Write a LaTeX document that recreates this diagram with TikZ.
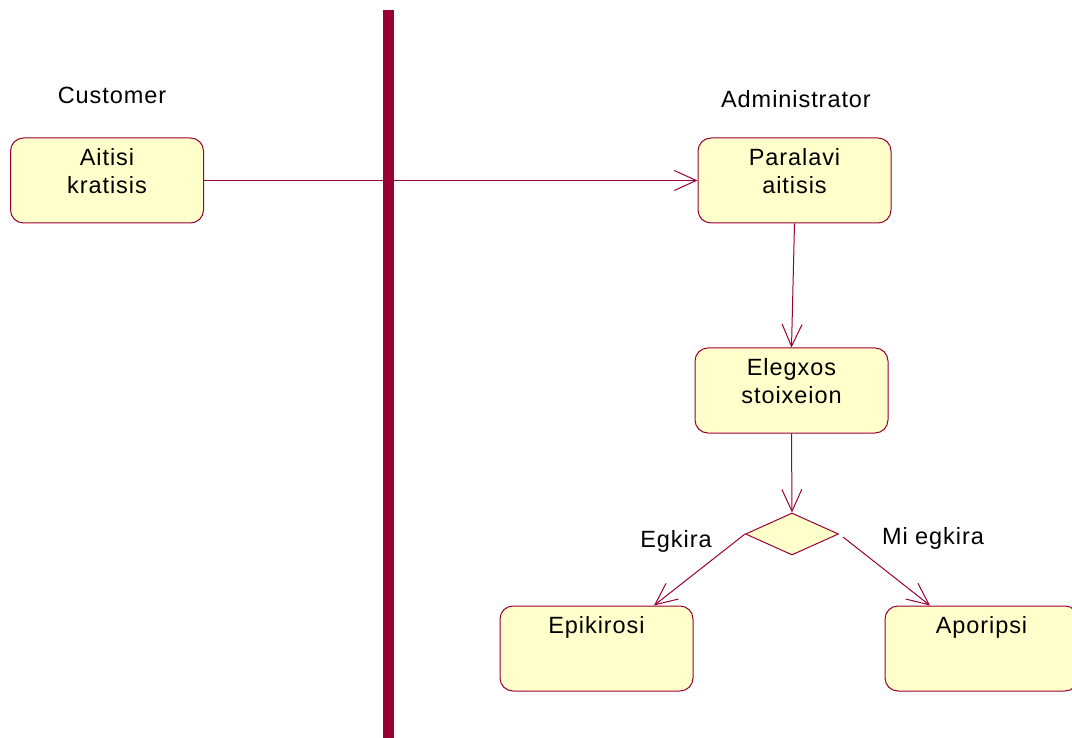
\documentclass[tikz,border=0pt]{standalone}
\usepackage{fontspec}
\setmainfont[LetterSpace=4]{Liberation Sans}
\usetikzlibrary{shapes.geometric,arrows.meta}
\definecolor{umlline}{HTML}{990033}
\definecolor{umlfill}{HTML}{FFFFCC}
\begin{document}
\begin{tikzpicture}[x=1pt,y=-1pt,
  every node/.style={font=\fontsize{23.5}{28}\selectfont},
  act/.style={draw=umlline, fill=umlfill, line width=1pt, rounded corners=13pt,
    minimum width=193pt, minimum height=85pt, inner sep=0pt},
  acttext/.style={anchor=north, align=center, inner sep=0pt, yshift=-11pt},
  decision/.style={draw=umlline, fill=umlfill, line width=1pt, shape=diamond,
    minimum width=93pt, minimum height=42pt, inner sep=0pt},
  flow/.style={draw=umlline, line width=1pt, -{Straight Barb[length=22pt,width=20pt,line width=1pt]}},
  lane/.style={inner sep=0pt}]
\useasboundingbox (0,0) rectangle (1072,738);
% swimlane divider
\fill[umlline] (383,10) rectangle (394,738);
% lane titles
\node[lane] (cust) at (112,95) {Customer};
\node[lane] (admin) at (796,99) {Administrator};
% activities
\node[act, label={[acttext]north:Aitisi\\kratisis}] (req) at (107,180.5) {};
\node[act, label={[acttext]north:Paralavi\\aitisis}] (recv) at (794.5,180.5) {};
\node[act, label={[acttext]north:Elegxos\\stoixeion}] (check) at (791.5,390.5) {};
\node[decision] (dec) at (792,534) {};
\node[act, label={[acttext]north:Epikirosi}] (conf) at (596.5,648.5) {};
\node[act, label={[acttext]north:Aporipsi}] (rej) at (981.5,648.5) {};
% guards
\node[lane] (gyes) at (676,541) {Egkira};
\node[lane] (gno) at (933,538) {Mi egkira};
% transitions
\draw[flow] (req.east) -- (recv.west);
\draw[flow] (recv.south) -- (check.north);
\draw[flow] (check.south) -- (dec.north);
\draw[flow] (dec.west) -- ([xshift=57.5pt]conf.north);
\draw[flow] ([shift={(4,3)}]dec.east) -- ([xshift=-51.5pt]rej.north);
\end{tikzpicture}
\end{document}
